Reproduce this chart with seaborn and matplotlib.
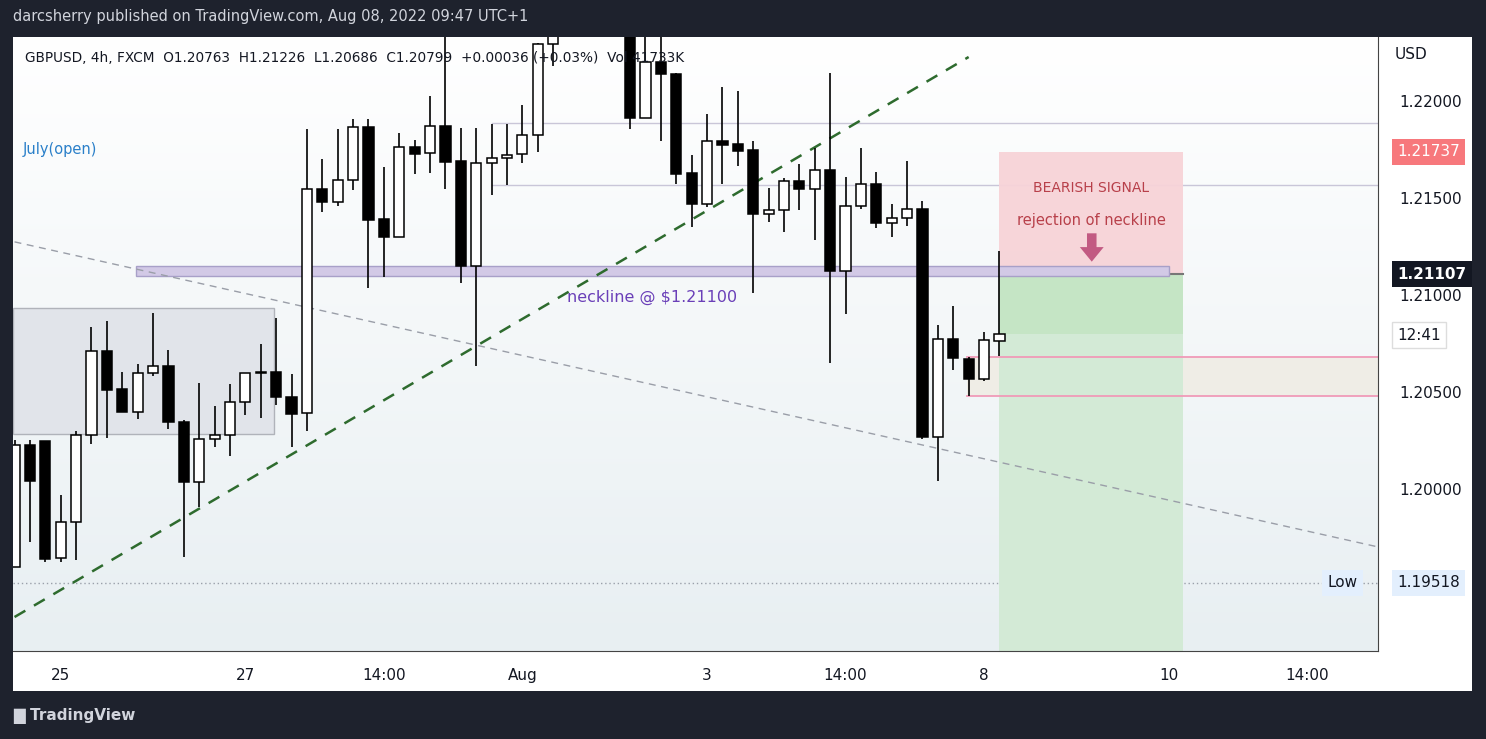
import numpy as np
import pandas as pd
import matplotlib
matplotlib.use("Agg")
import matplotlib.pyplot as plt
import seaborn as sns
from matplotlib.patches import Rectangle, FancyArrow
from matplotlib.transforms import blended_transform_factory as btf

# ---------------- data ----------------
opens = [1.19600,1.20228,1.20249,1.19646,1.19832,1.20280,1.20712,1.20517,1.20398,1.20599,
         1.20635,1.20347,1.20038,1.20259,1.20280,1.20450,1.20599,1.20604,1.20475,1.20393,
         1.21547,1.21480,1.21593,1.21866,1.21392,1.21299,1.21763,1.21732,1.21871,1.21691,
         1.21150,1.21681,1.21706,1.21727,1.21825,1.22293,1.22365,1.22500,1.22580,1.22480,
         1.22400,1.21912,1.22201,1.22139,1.21629,1.21469,1.21794,1.21778,1.21747,1.21418,
         1.21438,1.21588,1.21547,1.21644,1.21124,1.21459,1.21572,1.21372,1.21397,1.21444,
         1.20269,1.20774,1.20671,1.20568,1.20763]
closes = [1.20228,1.20043,1.19641,1.19832,1.20280,1.20712,1.20511,1.20398,1.20599,1.20635,
          1.20347,1.20038,1.20259,1.20280,1.20450,1.20599,1.20604,1.20475,1.20388,1.21547,
          1.21480,1.21593,1.21866,1.21387,1.21299,1.21763,1.21727,1.21871,1.21686,1.21150,
          1.21681,1.21706,1.21722,1.21825,1.22293,1.22365,1.22500,1.22580,1.22480,1.22400,
          1.21912,1.22201,1.22139,1.21624,1.21469,1.21794,1.21773,1.21742,1.21418,1.21438,
          1.21588,1.21547,1.21644,1.21124,1.21459,1.21572,1.21372,1.21397,1.21444,1.20269,
          1.20774,1.20676,1.20568,1.20769,1.20799]
highs = [1.20254,1.20254,1.20249,1.19971,1.20300,1.20836,1.20867,1.20604,1.20645,1.20908,
         1.20717,1.20357,1.20548,1.20429,1.20542,1.20599,1.20748,1.20882,1.20594,1.21856,
         1.21701,1.21856,1.21907,1.21907,1.21660,1.21835,1.21799,1.22026,1.22391,1.21861,
         1.21861,1.21881,1.21881,1.21979,1.22298,1.22450,1.22620,1.22680,1.22660,1.22560,
         1.22460,1.22380,1.22400,1.22145,1.21722,1.21933,1.22072,1.22051,1.21794,1.21552,
         1.21603,1.21675,1.21758,1.22144,1.21608,1.21758,1.21634,1.21469,1.21691,1.21485,
         1.20846,1.20944,1.20681,1.20810,1.21226]
lows = [1.19600,1.19729,1.19626,1.19626,1.19636,1.20233,1.20264,1.20398,1.20362,1.20584,
        1.20311,1.19651,1.19909,1.20218,1.20172,1.20383,1.20367,1.20434,1.20218,1.20300,
        1.21428,1.21459,1.21541,1.21037,1.21093,1.21299,1.21624,1.21629,1.21547,1.21063,
        1.20635,1.21516,1.21567,1.21681,1.21737,1.22180,1.22340,1.22420,1.22400,1.22360,
        1.21856,1.21912,1.21794,1.21572,1.21351,1.21454,1.21572,1.21665,1.21011,1.21377,
        1.21325,1.21438,1.21284,1.20651,1.20903,1.21444,1.21346,1.21299,1.21356,1.20259,
        1.20043,1.20614,1.20481,1.20558,1.20686]

date_tick_pos = [3, 15, 24, 33, 45, 54, 63, 75, 84]
date_tick_labels = ["25", "27", "14:00", "Aug", "3", "14:00", "8", "10", "14:00"]
price_ticks = [1.22000, 1.21500, 1.21000, 1.20500, 1.20000]

uptrend_x = [0, 62.0]
uptrend_y = [1.19342, 1.22226]
downtrend_x = [0, 88.6]
downtrend_y = [1.21274, 1.19703]
neckline = (1.21099, 1.21150)
low_price = 1.19518
entry_price = 1.20799
stop_price = 1.21737
target_price = 1.21107
gray_box = (1.20285, 1.20934)
h_lines = [1.21887, 1.21567]
pink_lines = [1.20682, 1.20481]

# ---------------- figure ----------------
W, H = 1486, 739
fig = plt.figure(figsize=(W/100, H/100), dpi=100)
fig.patch.set_facecolor("#1e222d")
panel = Rectangle((13/W, 1-691/H), (1472-13)/W, (691-37)/H,
                  transform=fig.transFigure, facecolor="white",
                  edgecolor="none", zorder=-10)
fig.patches.append(panel)
ax = fig.add_axes([13/W, 1-651/H, (1378-13)/W, (651-37)/H])
ax.set_zorder(1)
ax.set_xlim(-0.1, 88.6)
ax.set_ylim(1.19167, 1.22329)
ax.set_facecolor("white")

# gradient background
grad = np.linspace(0, 1, 256).reshape(-1, 1)
cmap = matplotlib.colors.LinearSegmentedColormap.from_list("g", ["#ffffff", "#e8eff2"])
ax.imshow(grad, aspect="auto", cmap=cmap, extent=[-0.1, 88.6, 1.19167, 1.22329],
          origin="upper", zorder=0)

n = len(opens)
idx = np.arange(n)
df = pd.DataFrame({"i": idx, "o": opens, "c": closes, "h": highs, "l": lows})

# zones
ax.add_patch(Rectangle((-0.1, gray_box[0]), 16.95, gray_box[1]-gray_box[0],
                       facecolor="#e1e4ea", edgecolor="#b0b3ba", lw=1, zorder=1))
for p in h_lines:
    ax.plot([31, 88.6], [p, p], color="#c9c6d8", lw=1, zorder=1)
ax.add_patch(Rectangle((61.9, pink_lines[1]), 26.7, pink_lines[0]-pink_lines[1],
                       facecolor="#efede6", edgecolor="none", zorder=1))
for p in pink_lines:
    ax.plot([61.9, 88.6], [p, p], color="#f09ab8", lw=1.3, zorder=2)
# short position
ax.add_patch(Rectangle((63.96, target_price), 12.0, stop_price-target_price,
                       facecolor="#f7d3d8", edgecolor="none", alpha=0.95, zorder=1.5))
ax.add_patch(Rectangle((63.96, entry_price), 12.0, target_price-entry_price,
                       facecolor="#c5e5c5", edgecolor="none", zorder=1.5))
ax.add_patch(Rectangle((63.96, 1.19), 12.0, entry_price-1.19,
                       facecolor="#d3ead6", edgecolor="none", zorder=1.5))
ax.plot([63.96, 75.96], [target_price, target_price], color="#777777", lw=1.5, zorder=2)
# neckline band
ax.add_patch(Rectangle((7.9, neckline[0]), 67.1, neckline[1]-neckline[0],
                       facecolor="#d2c9e6", edgecolor="#a8a0c8", lw=1, zorder=2))
# low dotted
ax.axhline(low_price, color="#9aa0aa", lw=1, ls=(0, (1, 2)), zorder=1)

# trend lines
sns.lineplot(x=uptrend_x, y=uptrend_y, ax=ax, color="#2e6b2e", lw=1.8,
             linestyle=(0, (5, 4)), zorder=3)
sns.lineplot(x=downtrend_x, y=downtrend_y, ax=ax, color="#9a9ea8", lw=1,
             linestyle=(0, (5, 4)), zorder=3)

# candles
ax.vlines(df.i, df.l, df.h, color="black", lw=1.2, zorder=4)
bottoms = np.minimum(df.o, df.c)
heights = np.maximum(np.abs(df.c - df.o), 0.00003)
colors = np.where(df.c >= df.o, "white", "black")
ax.bar(df.i, heights, bottom=bottoms, width=0.66, color=colors,
       edgecolor="black", lw=1.1, zorder=5)

# annotations
ax.text(35.9, 1.2099, "neckline @ $1.21100", color="#6a3fb8", fontsize=11.5,
        ha="left", va="center", zorder=6)
ax.text(69.95, 1.2155, "BEARISH SIGNAL", color="#b8404a", fontsize=10, ha="center",
        va="center", zorder=6)
ax.text(69.95, 1.21385, "rejection of neckline", color="#b8404a", fontsize=10.5,
        ha="center", va="center", zorder=6)
ax.add_patch(FancyArrow(70.0, 1.21318, 0, -0.00146, width=0.62, head_width=1.55,
                        head_length=0.00075, length_includes_head=True,
                        color="#c25a82", lw=0, zorder=6))
ax.text(0.007, 1.2175, "July(open)", color="#2a7fc9", fontsize=10.5,
        transform=btf(ax.transAxes, ax.transData), ha="left", va="center")
ax.text(0.009, 0.965, "GBPUSD, 4h, FXCM  O1.20763  H1.21226  L1.20686  C1.20799  +0.00036 (+0.03%)  Vol 41733K",
        transform=ax.transAxes, fontsize=9.8, color="#131722", ha="left", va="center", zorder=7)

# axes styling
for s in ["top", "left"]:
    ax.spines[s].set_visible(False)
ax.spines["right"].set_color("#444444")
ax.spines["bottom"].set_color("#444444")
ax.yaxis.tick_right()
ax.set_yticks(price_ticks)
ax.set_yticklabels([f"{p:.5f}" for p in price_ticks], fontsize=11, color="#131722")
ax.tick_params(axis="y", length=0, pad=15)
ax.set_xticks(date_tick_pos)
ax.set_xticklabels(date_tick_labels, fontsize=11, color="#131722")
ax.tick_params(axis="x", length=0, pad=12)

tr = btf(ax.transAxes, ax.transData)
ax.text(1.012, 0.972, "USD", transform=ax.transAxes, fontsize=11, color="#131722",
        ha="left", va="center")
ax.text(1.014, stop_price, "1.21737", transform=tr, fontsize=11, color="white",
        ha="left", va="center", bbox=dict(boxstyle="square,pad=0.35", fc="#f7787c", ec="none"))
ax.text(1.014, target_price, "1.21107", transform=tr, fontsize=11, color="white",
        ha="left", va="center", fontweight="bold",
        bbox=dict(boxstyle="square,pad=0.35", fc="#131722", ec="none"))
ax.text(1.014, entry_price - 0.00005, "12:41", transform=tr, fontsize=11, color="#131722",
        ha="left", va="center", bbox=dict(boxstyle="square,pad=0.35", fc="white", ec="#dddddd"))
ax.text(1.014, low_price, "1.19518", transform=tr, fontsize=11, color="#131722",
        ha="left", va="center", bbox=dict(boxstyle="square,pad=0.35", fc="#e3effd", ec="none"))
ax.text(0.985, low_price, "Low", transform=tr, fontsize=11, color="#131722",
        ha="right", va="center", bbox=dict(boxstyle="square,pad=0.35", fc="#e3effd", ec="none"))

fig.text(13/W, 1-17/H, "darcsherry published on TradingView.com, Aug 08, 2022 09:47 UTC+1",
         color="#d1d4dc", fontsize=10.5, ha="left", va="center")
fig.text(13/W, 1-716/H, "\u2588 TradingView", color="#d1d4dc", fontsize=11,
         fontweight="bold", ha="left", va="center")

fig.savefig("out.png", dpi=100, facecolor=fig.get_facecolor())
